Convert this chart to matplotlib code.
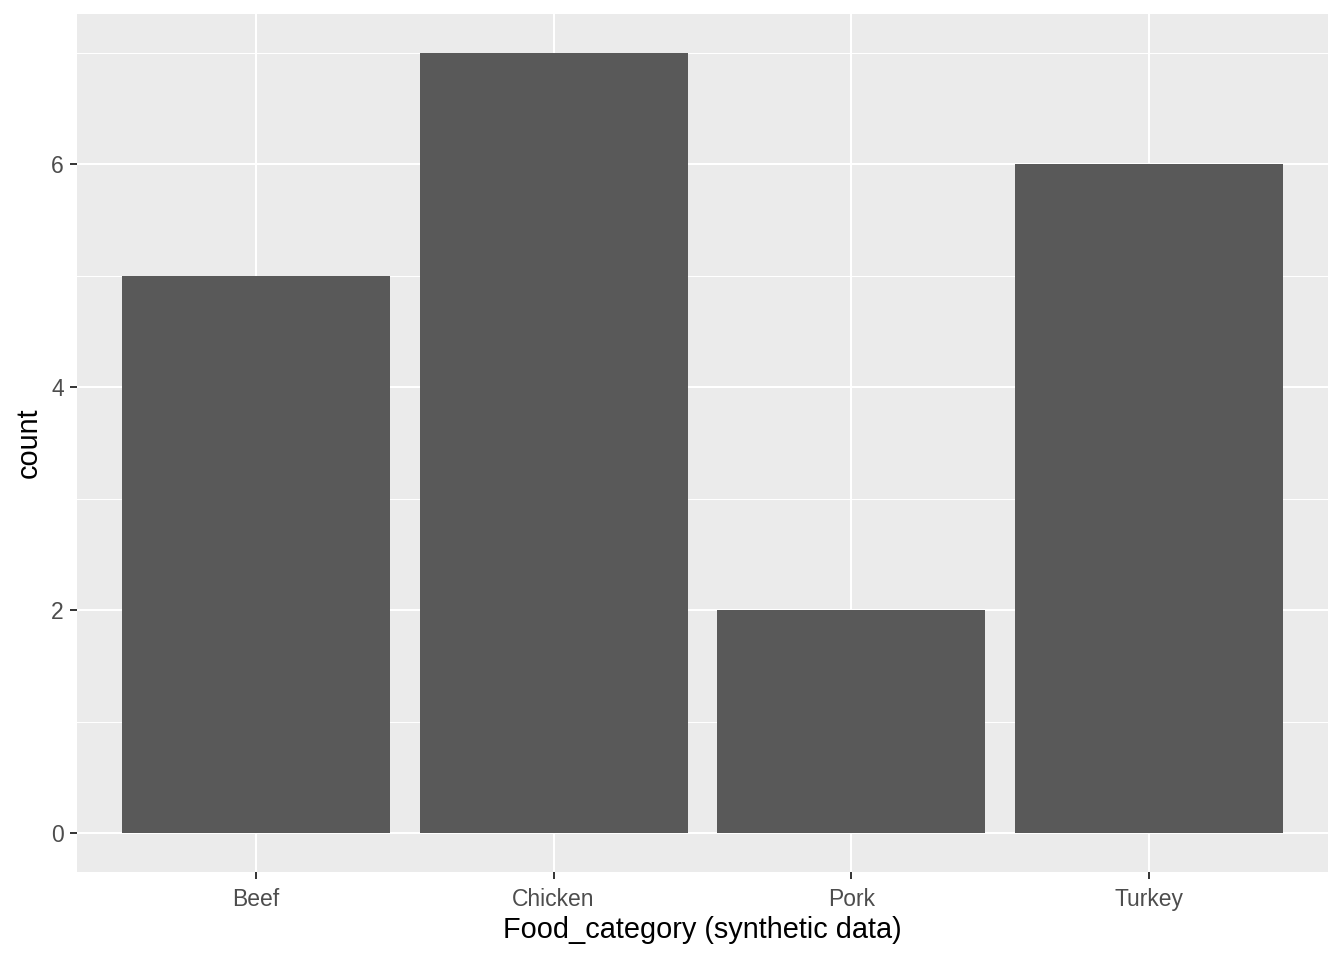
import matplotlib.pyplot as plt

plt.rcParams['font.family'] = ['Liberation Sans', 'DejaVu Sans']

categories = ['Beef', 'Chicken', 'Pork', 'Turkey']
counts = [5, 7, 2, 6]

fig = plt.figure(figsize=(13.44, 9.6), dpi=100)
ax = fig.add_axes([77 / 1344, 1 - 872 / 960, (1328 - 77) / 1344, (872 - 14) / 960])

ax.set_facecolor('#EBEBEB')
pos = list(range(1, len(categories) + 1))
ax.bar(pos, counts, width=0.9, color='#595959', zorder=3)

ax.set_xlim(0.4, 4.6)
ax.set_ylim(-0.35, 7.35)
ax.set_xticks(pos)
ax.set_xticklabels(categories)
ax.set_yticks([0, 2, 4, 6])
ax.set_yticks([1, 3, 5, 7], minor=True)

ax.grid(which='major', color='white', linewidth=1.5, zorder=1)
ax.grid(which='minor', axis='y', color='white', linewidth=0.75, zorder=1)
for s in ax.spines.values():
    s.set_visible(False)

ax.tick_params(which='major', length=5, width=1.4, color='#333333',
               labelsize=16.5, labelcolor='#4D4D4D')
ax.tick_params(axis='x', which='major', pad=6.5)
ax.tick_params(axis='y', which='major', pad=4.5)
ax.tick_params(which='minor', length=0)

ax.set_xlabel('Food_category (synthetic data)', fontsize=20.8, color='black', labelpad=3.5)
ax.set_ylabel('count', fontsize=20.8, color='black', labelpad=6)

fig.savefig('out.png', dpi=100, facecolor='white')
